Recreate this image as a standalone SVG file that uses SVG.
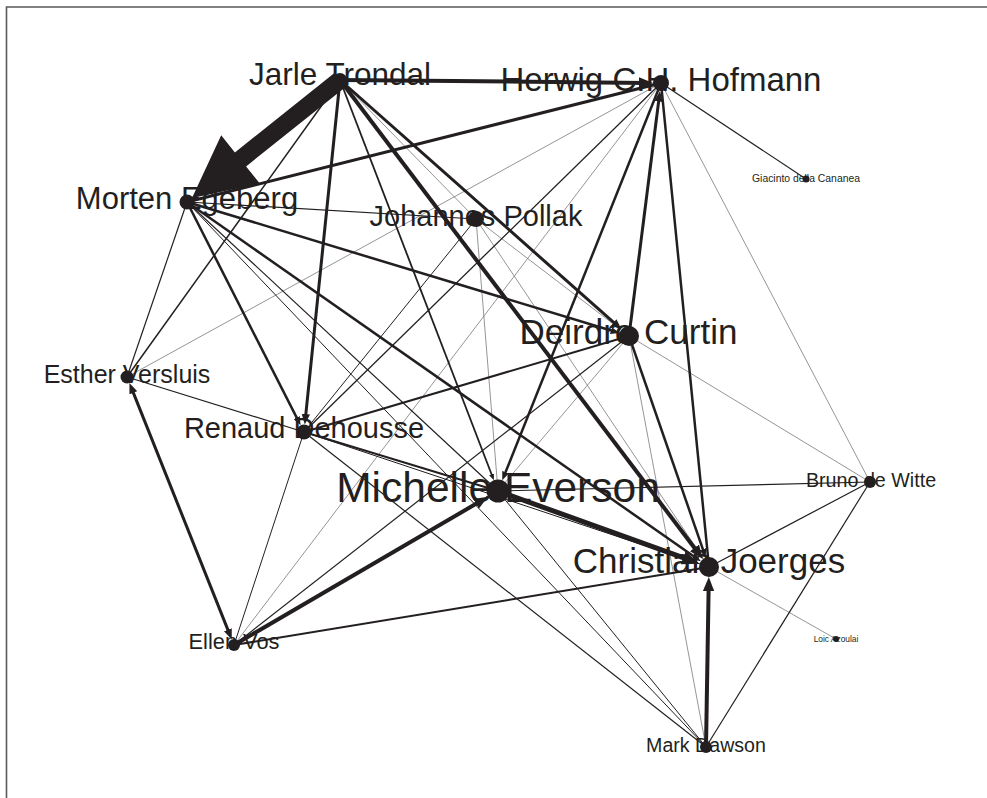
<svg xmlns="http://www.w3.org/2000/svg" width="987" height="798" viewBox="0 0 987 798">
<style>
.bg{fill:#ffffff}
.frame{stroke:#5a5a5a;stroke-width:1.6;fill:none}
.e{stroke:#231f20;fill:none;stroke-linecap:butt}
.g{stroke:#7a7a7a;stroke-width:0.8;fill:none}
.a{marker-end:url(#arr)}
.t{font-family:"Liberation Sans",Arial,sans-serif;fill:#231f20;text-anchor:middle}
.n{fill:#231f20}
</style>
<defs>
<marker id="arr" viewBox="0 0 10 8" markerWidth="3.5" markerHeight="2.8" refX="5" refY="4" orient="auto" markerUnits="strokeWidth">
<path d="M0,0 L10,4 L0,8 z" fill="#231f20"/>
</marker>
<marker id="arrs" viewBox="0 0 10 8" markerWidth="3.5" markerHeight="2.8" refX="5" refY="4" orient="auto-start-reverse" markerUnits="strokeWidth">
<path d="M0,0 L10,4 L0,8 z" fill="#231f20"/>
</marker>
</defs>
<rect class="bg" x="0" y="0" width="987" height="798"/>
<path class="frame" d="M6.5,798 V7 H987"/>
<g id="connectors">
<!-- thin gray -->
<line class="g" x1="340" y1="80" x2="476" y2="219"/>
<line class="g" x1="661" y1="83" x2="870" y2="482"/>
<line class="g" x1="661" y1="83" x2="127" y2="377"/>
<line class="g" x1="661" y1="83" x2="234" y2="645"/>
<line class="g" x1="476" y1="219" x2="498" y2="491"/>
<line class="g" x1="476" y1="219" x2="709" y2="567"/>
<line class="g" x1="476" y1="219" x2="629" y2="336"/>
<line class="g" x1="629" y1="336" x2="498" y2="491"/>
<line class="g" x1="629" y1="336" x2="706" y2="747"/>
<line class="g" x1="629" y1="336" x2="870" y2="482"/>
<line class="g" x1="709" y1="567" x2="836" y2="639"/>
<!-- thin dark -->
<line class="e" stroke-width="1.5" x1="340" y1="80" x2="127" y2="377"/>
<line class="e" stroke-width="1.2" x1="187" y1="202" x2="476" y2="219"/>
<line class="e" stroke-width="1.2" x1="187" y1="202" x2="127" y2="377"/>
<line class="e" stroke-width="1.2" x1="187" y1="202" x2="498" y2="491"/>
<line class="e" stroke-width="1" x1="187" y1="202" x2="706" y2="747"/>
<line class="e" stroke-width="1.2" x1="661" y1="83" x2="806" y2="179"/>
<line class="e" stroke-width="1.3" x1="661" y1="83" x2="304" y2="432"/>
<line class="e" stroke-width="1" x1="476" y1="219" x2="304" y2="432"/>
<line class="e" stroke-width="1.2" x1="629" y1="336" x2="234" y2="645"/>
<line class="e" stroke-width="1.2" x1="127" y1="377" x2="304" y2="432"/>
<line class="e" stroke-width="1" x1="304" y1="432" x2="709" y2="567"/>
<line class="e" stroke-width="1" x1="304" y1="432" x2="234" y2="645"/>
<line class="e" stroke-width="1.2" x1="304" y1="432" x2="706" y2="747"/>
<line class="e" stroke-width="1.2" x1="498" y1="491" x2="870" y2="482"/>
<line class="e" stroke-width="1" x1="498" y1="491" x2="706" y2="747"/>
<line class="e" stroke-width="1.2" x1="706" y1="747" x2="870" y2="482"/>
<line class="e" stroke-width="1.2" x1="709" y1="567" x2="870" y2="482"/>
<!-- medium / thick undirected -->
<line class="e" stroke-width="3" x1="187" y1="202" x2="661" y2="83"/>
<line class="e" stroke-width="2.5" x1="661" y1="83" x2="709" y2="567"/>
<line class="e" stroke-width="2" x1="629" y1="336" x2="304" y2="432"/>
<line class="e" stroke-width="2" x1="304" y1="432" x2="498" y2="491"/>
<line class="e" stroke-width="2" x1="234" y1="645" x2="709" y2="567"/>
<!-- directed -->
<line class="e a" stroke-width="4" x1="340" y1="80" x2="646" y2="82.9"/>
<line class="e a" stroke-width="3" x1="340" y1="80" x2="305.3" y2="419.3"/>
<line class="e a" stroke-width="3" x1="340" y1="80" x2="617.6" y2="325.9"/>
<line class="e a" stroke-width="4" x1="340" y1="80" x2="698.7" y2="553.5"/>
<line class="e a" stroke-width="1.8" x1="340" y1="80" x2="492.7" y2="477.3"/>
<line class="e a" stroke-width="2.5" x1="187" y1="202" x2="615.2" y2="331.8"/>
<line class="e a" stroke-width="2.5" x1="187" y1="202" x2="298.6" y2="421.4"/>
<line class="e a" stroke-width="2.5" x1="187" y1="202" x2="697.2" y2="558.8"/>
<line class="e a" stroke-width="3" x1="629" y1="336" x2="659.3" y2="96.2"/>
<line class="e a" stroke-width="2.5" x1="629" y1="336" x2="704.3" y2="553.4"/>
<line class="e a" stroke-width="5" x1="498" y1="491" x2="691.4" y2="560.7"/>
<line class="e a" stroke-width="4" x1="234" y1="645" x2="482" y2="500.3"/>
<line class="e a" stroke-width="3" x1="131.4" y1="387.9" x2="229.8" y2="634.6" marker-start="url(#arrs)"/>
<line class="e a" stroke-width="4" x1="706" y1="747" x2="708.7" y2="584"/>
<line class="e a" stroke-width="2.5" x1="661" y1="83" x2="503.9" y2="476.3"/>
<!-- heavy arrow Jarle Trondal to Morten Egeberg -->
<polygon fill="#231f20" points="334.4,73 234.9,152.4 221.2,135.2 192,198 259.8,183.6 246.1,166.4 345.6,87"/>
</g>
<g id="node-jarle-trondal"><text class="t" x="340" y="85" font-size="31.5">Jarle Trondal</text><circle class="n" cx="340" cy="80" r="7"/></g>
<g id="node-herwig-hofmann"><text class="t" x="661" y="91" font-size="33">Herwig C.H. Hofmann</text><circle class="n" cx="661" cy="83" r="8"/></g>
<g id="node-giacinto-della-cananea"><text class="t" x="806" y="181.5" font-size="10.4">Giacinto della Cananea</text><circle class="n" cx="806" cy="179" r="3.5"/></g>
<g id="node-morten-egeberg"><text class="t" x="187" y="209" font-size="31">Morten Egeberg</text><circle class="n" cx="187" cy="202" r="7.5"/></g>
<g id="node-johannes-pollak"><text class="t" x="476" y="226" font-size="29">Johannes Pollak</text><circle class="n" cx="476" cy="219" r="8"/></g>
<g id="node-deirdre-curtin"><text class="t" x="628.5" y="344" font-size="35">Deirdre Curtin</text><circle class="n" cx="629" cy="336" r="10"/></g>
<g id="node-esther-versluis"><text class="t" x="127" y="383" font-size="25">Esther Versluis</text><circle class="n" cx="127" cy="377" r="6.5"/></g>
<g id="node-renaud-dehousse"><text class="t" x="304" y="438" font-size="29">Renaud Dehousse</text><circle class="n" cx="304" cy="432" r="7.5"/></g>
<g id="node-michelle-everson"><text class="t" x="498" y="502" font-size="42.5">Michelle Everson</text><circle class="n" cx="498" cy="491" r="11.5"/></g>
<g id="node-bruno-de-witte"><text class="t" x="871" y="487" font-size="19.7">Bruno de Witte</text><circle class="n" cx="870" cy="482" r="6"/></g>
<g id="node-christian-joerges"><text class="t" x="709" y="573" font-size="35">Christian Joerges</text><circle class="n" cx="709" cy="567" r="10"/></g>
<g id="node-ellen-vos"><text class="t" x="234" y="649" font-size="21.8">Ellen Vos</text><circle class="n" cx="234" cy="645" r="6"/></g>
<g id="node-loic-azoulai"><text class="t" x="836" y="642" font-size="8.4">Loic Azoulai</text><circle class="n" cx="836" cy="639" r="3"/></g>
<g id="node-mark-dawson"><text class="t" x="706" y="752" font-size="19.6">Mark Dawson</text><circle class="n" cx="706" cy="747" r="6"/></g>
</svg>
